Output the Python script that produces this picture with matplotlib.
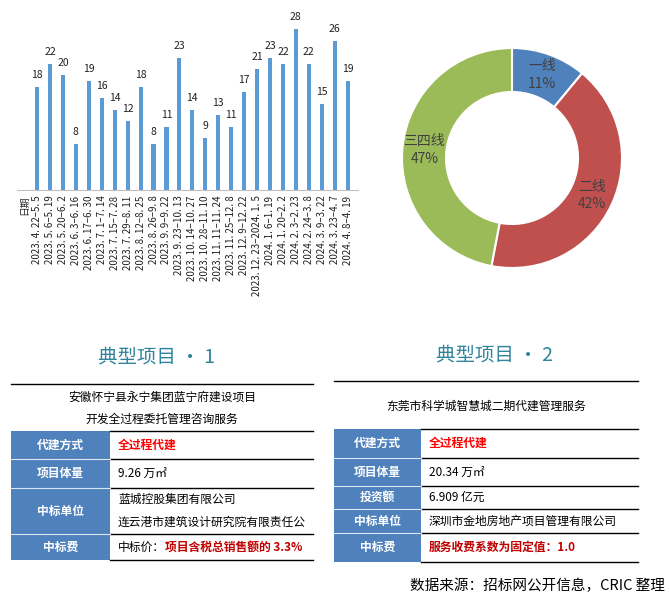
import numpy as np
import matplotlib
matplotlib.use("Agg")
import matplotlib.pyplot as plt
from matplotlib.patches import Rectangle

plt.rcParams['font.family'] = ['Noto Sans CJK SC', 'DejaVu Sans']

# weekly counts
periods = ["2023. 4. 22–5. 5", "2023. 5. 6–5. 19", "2023. 5. 20–6. 2", "2023. 6. 3–6. 16",
           "2023. 6. 17–6. 30", "2023. 7. 1–7. 14", "2023. 7. 15–7. 28", "2023. 7. 29–8. 11",
           "2023. 8. 12–8. 25", "2023. 8. 26–9. 8", "2023. 9. 9–9. 22", "2023. 9. 23–10. 13",
           "2023. 10. 14–10. 27", "2023. 10. 28–11. 10", "2023. 11. 11–11. 24", "2023. 11. 25–12. 8",
           "2023. 12. 9–12. 22", "2023. 12. 23–2024. 1. 5", "2024. 1. 6–1. 19", "2024. 1. 20–2. 2",
           "2024. 2. 3–2. 23", "2024. 2. 24–3. 8", "2024. 3. 9–3. 22", "2024. 3. 23–4. 7",
           "2024. 4. 8–4. 19"]
counts = [18, 22, 20, 8, 19, 16, 14, 12, 18, 8, 11, 23, 14, 9, 13, 11, 17, 21, 23, 22, 28, 22, 15, 26, 19]

# city tiers
tiers = ["一线", "二线", "三四线"]
tier_share = [11, 42, 47]
tier_colors = ["#4F81BD", "#C0504D", "#9BBB59"]

# tables
t1_title = "典型项目 · 1"
t1_name = ["安徽怀宁县永宁集团蓝宁府建设项目", "开发全过程委托管理咨询服务"]
t1_keys = ["代建方式", "项目体量", "中标单位", "中标费"]
t1_vals = ["全过程代建", "9.26 万㎡", "蓝城控股集团有限公司\n连云港市建筑设计研究院有限责任公",
           ("中标价：", "项目含税总销售额的 3.3%")]

t2_title = "典型项目 · 2"
t2_name = ["东莞市科学城智慧城二期代建管理服务"]
t2_keys = ["代建方式", "项目体量", "投资额", "中标单位", "中标费"]
t2_vals = ["全过程代建", "20.34 万㎡", "6.909 亿元", "深圳市金地房地产项目管理有限公司",
           ("", "服务收费系数为固定值：1.0")]

source = "数据来源：招标网公开信息，CRIC 整理"

W, H = 671, 606
fig = plt.figure(figsize=(W / 100, H / 100), dpi=100)


def px_axes(left, top, width, height):
    return fig.add_axes([left / W, 1 - (top + height) / H, width / W, height / H])


# ---- bar chart
ax = px_axes(17, 17.5, 341, 172.5)
x = np.arange(len(counts))
ax.bar(x, counts, width=0.32, color="#5B9BD5")
for xi, v in zip(x, counts):
    ax.annotate(str(v), (xi, v), xytext=(0, 5), textcoords="offset points",
                ha="center", va="bottom", fontsize=7.5, color="#202020")
ax.set_xlim(-1.55, 24.8)
ax.set_ylim(0, 30)
ax.set_xticks(np.arange(-1, len(counts)))
ax.set_xticklabels(["日期"] + periods, rotation=90, fontsize=7, color="#202020")
ax.tick_params(axis="x", length=0, pad=4)
ax.set_yticks([])
for s in ["top", "left", "right"]:
    ax.spines[s].set_visible(False)
ax.spines["bottom"].set_color("#BFBFBF")
ax.patch.set_alpha(0)

# ---- donut
axp = px_axes(397, 43, 230, 230)
r = 110 / 115
wedges, _ = axp.pie(tier_share, colors=tier_colors, startangle=90, counterclock=False,
                    radius=r, wedgeprops=dict(width=r * 0.4, edgecolor="white", linewidth=1.5))
for w, name, val in zip(wedges, tiers, tier_share):
    ang = np.deg2rad((w.theta1 + w.theta2) / 2)
    rr = r * 0.8
    axp.text(rr * np.cos(ang), rr * np.sin(ang), f"{name}\n{val}%", ha="center", va="center",
             fontsize=10, color="#404040", linespacing=1.35)
axp.set_xlim(-1, 1)
axp.set_ylim(-1, 1)
axp.set_aspect("equal")
axp.axis("off")

# ---- tables on a pixel canvas
bg = fig.add_axes([0, 0, 1, 1], zorder=-1)
bg.set_xlim(0, W)
bg.set_ylim(H, 0)
bg.axis("off")

BLUE = "#4F81BD"


def draw_table(title, tx, ty, name, name_y, top_line, x0, xm, x1, rows, keys, vals):
    bg.text(tx, ty, title, ha="center", va="center", fontsize=14, color="#31849B")
    bg.plot([x0, x1], [top_line, top_line], color="black", lw=1)
    for yy, line in zip(name_y, name):
        bg.text((x0 + x1) / 2, yy, line, ha="center", va="center", fontsize=8.5, color="black")
    for i, (k, v) in enumerate(zip(keys, vals)):
        ya, yb = rows[i], rows[i + 1]
        bg.add_patch(Rectangle((x0, ya), xm - x0, yb - ya, facecolor=BLUE, edgecolor="none"))
        bg.text((x0 + xm) / 2, (ya + yb) / 2, k, ha="center", va="center", fontsize=8.5,
                color="white", fontweight="bold")
        yc = (ya + yb) / 2
        if isinstance(v, tuple):
            t = bg.text(xm + 8, yc, v[0], ha="left", va="center", fontsize=8.5, color="black")
            bg.annotate(v[1], xy=(1, 0.5), xycoords=t, ha="left", va="center", fontsize=8.5,
                        color="#C00000", fontweight="bold")
        elif i == 0:
            bg.text(xm + 8, yc, v, ha="left", va="center", fontsize=8.5, color="#FF0000",
                    fontweight="bold")
        else:
            bg.text(xm + 8, yc, v, ha="left", va="center", fontsize=8.5, color="black",
                    linespacing=2.0)
    for j, yy in enumerate(rows):
        bg.plot([xm, x1], [yy, yy], color="black", lw=1)
        if 0 < j < len(rows) - 1:
            bg.plot([x0, xm], [yy, yy], color="#DCE6F2", lw=0.8)


draw_table(t1_title, 157, 357, t1_name, [397, 419], 384, 11, 110, 313,
           [431, 459, 488, 534, 560], t1_keys, t1_vals)
draw_table(t2_title, 495, 355, t2_name, [406], 381, 334, 421, 638,
           [429, 458, 486, 509, 533, 562], t2_keys, t2_vals)

bg.text(665, 586, source, ha="right", va="center", fontsize=10.5, color="black")

fig.savefig("out.png", dpi=100)
